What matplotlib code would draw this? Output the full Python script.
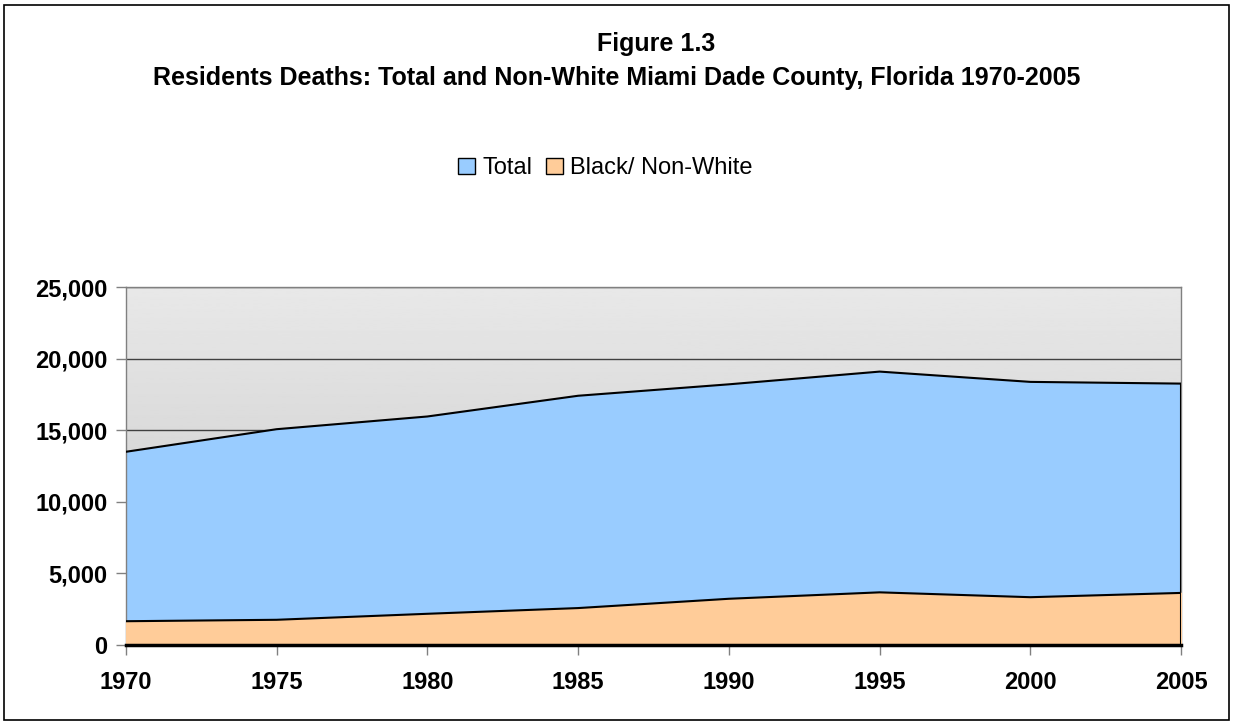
import matplotlib
matplotlib.use("Agg")
import matplotlib.pyplot as plt
from matplotlib.patches import Rectangle, Patch
from matplotlib.ticker import FuncFormatter
import numpy as np

plt.rcParams['font.family'] = ['Liberation Sans', 'DejaVu Sans']

years = [1970, 1975, 1980, 1985, 1990, 1995, 2000, 2005]
total = [13480, 15060, 15950, 17400, 18200, 19090, 18370, 18250]
black = [1630, 1730, 2150, 2550, 3200, 3650, 3310, 3610]
series_names = ["Total", "Black/ Non-White"]
title_lines = ["Figure 1.3",
               "Residents Deaths: Total and Non-White Miami Dade County, Florida 1970-2005"]

fig = plt.figure(figsize=(12.33, 7.25), dpi=100)
ax = fig.add_axes([0.102, 0.111, 0.856, 0.493])

# gradient plot background
grad = np.linspace(0.78, 0.91, 256).reshape(-1, 1)
ax.imshow(grad, extent=[years[0], years[-1], 0, 25000], aspect='auto',
          cmap='gray', vmin=0, vmax=1, origin='lower', zorder=0)

ax.fill_between(years, total, color='#99CCFF', zorder=2)
ax.plot(years, total, color='black', lw=1.5, zorder=3)
ax.fill_between(years, black, color='#FFCC99', zorder=4)
ax.plot(years, black, color='black', lw=1.5, zorder=5)
ax.plot([years[-1], years[-1]], [0, total[-1]], color='black', lw=1.5, zorder=5)

ax.set_xlim(years[0], years[-1])
ax.set_ylim(0, 25000)
ax.set_xticks(years)
ax.set_yticks(range(0, 25001, 5000))
ax.yaxis.set_major_formatter(FuncFormatter(lambda v, p: f"{int(v):,}"))
ax.set_axisbelow(True)
ax.yaxis.grid(True, color='#404040', lw=1)

for lab in ax.get_xticklabels() + ax.get_yticklabels():
    lab.set_fontweight('bold')
    lab.set_fontsize(17)
ax.tick_params(axis='both', direction='out', length=7, width=1, color='#808080')
ax.tick_params(axis='x', pad=12)
ax.tick_params(axis='y', pad=6)

for side in ['left', 'top', 'right']:
    ax.spines[side].set_color('#808080')
    ax.spines[side].set_linewidth(1)
ax.spines['bottom'].set_color('black')
ax.spines['bottom'].set_linewidth(2.5)
ax.spines['bottom'].set_zorder(6)

fig.text(0.532, 0.940, title_lines[0], ha='center', va='center',
         fontsize=18, fontweight='bold')
fig.text(0.500, 0.893, title_lines[1], ha='center', va='center',
         fontsize=18, fontweight='bold')

handles = [Patch(facecolor='#99CCFF', edgecolor='black', lw=1),
           Patch(facecolor='#FFCC99', edgecolor='black', lw=1)]
fig.legend(handles, series_names, loc='center', bbox_to_anchor=(0.491, 0.768),
           ncol=2, frameon=False, fontsize=17, handlelength=0.7, handleheight=0.7,
           handletextpad=0.3, columnspacing=0.6)

fig.patches.append(Rectangle((0.003, 0.007), 0.994, 0.986, transform=fig.transFigure,
                             fill=False, edgecolor='black', lw=1.2))

fig.savefig('out.png', dpi=100)
